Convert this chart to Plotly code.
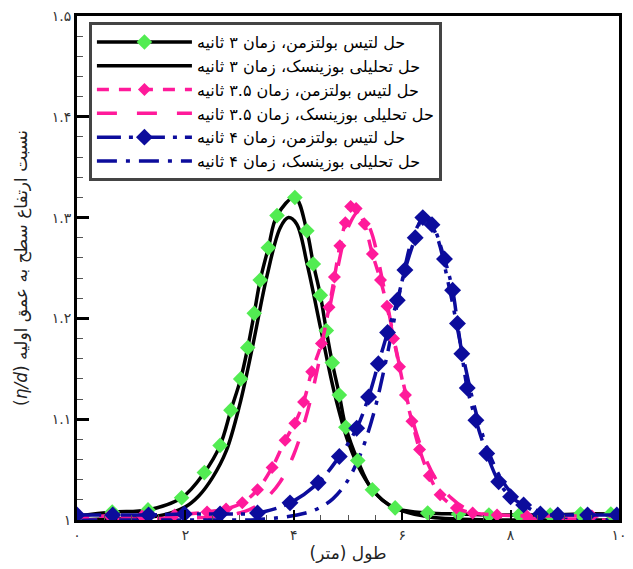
import plotly.graph_objects as go

# --- Lattice Boltzmann solution, t = 3 s (points carrying markers) ---
x_lb3 = [0.00, 0.65, 1.31, 1.93, 2.35, 2.64, 2.84, 3.02, 3.15, 3.27, 3.38, 3.53, 3.69, 4.02,
         4.24, 4.36, 4.49, 4.60, 4.71, 4.84, 4.96, 5.18, 5.45, 5.87, 6.47, 7.04, 7.60, 8.16,
         8.73, 9.29, 9.85]
y_lb3 = [1.004, 1.008, 1.010, 1.022, 1.047, 1.074, 1.109, 1.140, 1.171, 1.205, 1.238, 1.270,
         1.302, 1.320, 1.287, 1.254, 1.223, 1.188, 1.156, 1.124, 1.092, 1.059, 1.030, 1.012,
         1.007, 1.006, 1.005, 1.005, 1.005, 1.006, 1.006]

# --- Boussinesq analytical solution, t = 3 s ---
x_an3 = [0, 0.5, 1.0, 1.5, 2.0, 2.25, 2.5, 2.75, 3.0, 3.25, 3.5, 3.75, 3.9, 4.05, 4.25, 4.5,
         4.75, 5.0, 5.25, 5.5, 5.75, 6.0, 6.5, 7.0, 8.0, 9.0, 10.0]
y_an3 = [1.000, 1.001, 1.002, 1.004, 1.013, 1.024, 1.042, 1.068, 1.114, 1.175, 1.241, 1.290,
         1.300, 1.294, 1.253, 1.189, 1.126, 1.078, 1.047, 1.027, 1.015, 1.009, 1.003, 1.001,
         1.000, 1.000, 1.000]

# --- Lattice Boltzmann solution, t = 3.5 s ---
x_lb35 = [0.0, 0.6, 1.2, 1.8, 2.4, 2.75, 3.05, 3.33, 3.6, 3.84, 4.02, 4.18, 4.33, 4.51, 4.65,
          4.75, 4.85, 4.95, 5.05, 5.15, 5.3, 5.45, 5.6, 5.72, 5.84, 5.95, 6.06, 6.18, 6.32,
          6.5, 6.7, 7.0, 7.3, 7.75, 8.3, 8.9, 9.5, 10.0]
y_lb35 = [1.003, 1.004, 1.004, 1.005, 1.008, 1.011, 1.017, 1.030, 1.052, 1.079, 1.096, 1.117,
          1.147, 1.175, 1.211, 1.241, 1.272, 1.295, 1.311, 1.309, 1.294, 1.264, 1.238, 1.212,
          1.180, 1.152, 1.124, 1.098, 1.070, 1.044, 1.025, 1.012, 1.007, 1.005, 1.004, 1.004,
          1.004, 1.004]

# --- Boussinesq analytical solution, t = 3.5 s ---
x_an35 = [0, 1, 2, 2.5, 3.0, 3.25, 3.5, 3.75, 4.0, 4.25, 4.5, 4.75, 5.0, 5.2, 5.4, 5.65, 5.9,
          6.15, 6.4, 6.65, 6.9, 7.15, 7.4, 7.9, 8.5, 10]
y_an35 = [1.000, 1.001, 1.002, 1.003, 1.007, 1.012, 1.022, 1.038, 1.065, 1.107, 1.166, 1.234,
          1.290, 1.306, 1.290, 1.234, 1.166, 1.107, 1.065, 1.038, 1.022, 1.012, 1.007, 1.003,
          1.001, 1.000]

# --- Lattice Boltzmann solution, t = 4 s ---
x_lb4 = [0.0, 0.66, 1.32, 1.98, 2.64, 3.33, 3.93, 4.45, 4.84, 5.16, 5.38, 5.56, 5.73, 5.91,
         6.05, 6.24, 6.38, 6.55, 6.78, 6.93, 7.02, 7.10, 7.20, 7.36, 7.56, 7.78, 8.0, 8.24,
         8.55, 8.87, 9.42, 9.96]
y_lb4 = [1.005, 1.005, 1.005, 1.006, 1.006, 1.007, 1.017, 1.037, 1.063, 1.091, 1.122, 1.155,
         1.186, 1.218, 1.248, 1.280, 1.300, 1.293, 1.259, 1.228, 1.195, 1.165, 1.131, 1.099,
         1.066, 1.038, 1.023, 1.015, 1.006, 1.005, 1.005, 1.005]

# --- Boussinesq analytical solution, t = 4 s ---
x_an4 = [0, 2, 3.5, 4.22, 4.47, 4.72, 4.97, 5.22, 5.47, 5.72, 5.97, 6.22, 6.42, 6.62, 6.87,
         7.12, 7.37, 7.62, 7.87, 8.12, 8.37, 8.62, 9.12, 10]
y_an4 = [1.000, 1.000, 1.001, 1.007, 1.012, 1.021, 1.037, 1.064, 1.105, 1.163, 1.230, 1.284,
         1.300, 1.284, 1.230, 1.163, 1.105, 1.064, 1.037, 1.021, 1.012, 1.007, 1.002, 1.000]

# Axis tick values and their Persian labels
x_tickvals = [0, 2, 4, 6, 8, 10]
x_ticktext = ["۰", "۲", "۴", "۶", "۸", "۱۰"]
y_tickvals = [1.0, 1.1, 1.2, 1.3, 1.4, 1.5]
y_ticktext = ["۱", "۱.۱", "۱.۲", "۱.۳", "۱.۴", "۱.۵"]

names = [
    "حل لتیس بولتزمن، زمان ۳ ثانیه",
    "حل تحلیلی بوزینسک، زمان ۳ ثانیه",
    "حل لتیس بولتزمن، زمان ۳.۵ ثانیه",
    "حل تحلیلی بوزینسک، زمان ۳.۵ ثانیه",
    "حل لتیس بولتزمن، زمان ۴ ثانیه",
    "حل تحلیلی بوزینسک، زمان ۴ ثانیه",
]

RLM = "\u200f"  # keeps the closing parenthesis inside the right-to-left run

GREEN = "#52ec52"
PINK = "#ff1a9a"
NAVY = "#0c0c9c"
LW = 3.5

fig = go.Figure()

# analytical curves first so the LBM markers sit on top
fig.add_trace(go.Scatter(x=x_an3, y=y_an3, mode="lines", name=names[1], legendrank=2,
                         line=dict(color="black", width=LW, shape="spline")))
fig.add_trace(go.Scatter(x=x_an35, y=y_an35, mode="lines", name=names[3], legendrank=4,
                         line=dict(color=PINK, width=LW, dash="20px,20px", shape="spline")))
fig.add_trace(go.Scatter(x=x_an4, y=y_an4, mode="lines", name=names[5], legendrank=6,
                         line=dict(color=NAVY, width=LW, dash="20px,9px,4px,9px", shape="spline")))

fig.add_trace(go.Scatter(x=x_lb3, y=y_lb3, mode="lines+markers", name=names[0], legendrank=1,
                         line=dict(color="black", width=LW, shape="spline"),
                         marker=dict(symbol="diamond", size=12, color=GREEN)))
fig.add_trace(go.Scatter(x=x_lb35, y=y_lb35, mode="lines+markers", name=names[2], legendrank=3,
                         line=dict(color=PINK, width=LW, dash="12px,10px", shape="spline"),
                         marker=dict(symbol="diamond", size=10, color=PINK)))
fig.add_trace(go.Scatter(x=x_lb4, y=y_lb4, mode="lines+markers", name=names[4], legendrank=5,
                         line=dict(color=NAVY, width=LW, dash="24px,8px,4px,8px", shape="spline"),
                         marker=dict(symbol="diamond", size=13, color=NAVY)))

FONT = "DejaVu Sans"

fig.update_layout(
    width=633, height=569,
    margin=dict(l=77, r=6, t=16, b=49),
    paper_bgcolor="white", plot_bgcolor="white",
    font=dict(family=FONT, color="#222", size=13),
    showlegend=True,
    legend=dict(
        x=0.022, y=0.988, xanchor="left", yanchor="top",
        bgcolor="white", bordercolor="#444", borderwidth=3,
        font=dict(family=FONT, size=16, color="black"),
        itemwidth=95, tracegroupgap=0,
    ),
    xaxis=dict(
        range=[0, 10], tickvals=x_tickvals, ticktext=x_ticktext,
        ticks="inside", ticklen=10, tickwidth=2, tickcolor="black",
        minor=dict(dtick=0.5, ticks="inside", ticklen=5, tickwidth=1, tickcolor="#555"),
        showline=True, linecolor="black", linewidth=3, mirror=True,
        showgrid=False, zeroline=False,
        tickfont=dict(family=FONT, size=14, color="#333"),
        title=dict(text="طول (متر)" + RLM,
                   font=dict(family=FONT, size=17, color="#222"), standoff=6),
    ),
    yaxis=dict(
        range=[1, 1.5], tickvals=y_tickvals, ticktext=y_ticktext,
        ticks="inside", ticklen=12, tickwidth=2.5, tickcolor="black",
        minor=dict(dtick=0.02, ticks="inside", ticklen=6, tickwidth=1, tickcolor="#555"),
        showline=True, linecolor="black", linewidth=3, mirror=True,
        showgrid=False, zeroline=False,
        tickfont=dict(family=FONT, size=14, color="#333"),
        title=dict(text="(<i>η/d</i>) نسبت ارتفاع سطح به عمق اولیه",
                   font=dict(family=FONT, size=17, color="#222"), standoff=20),
    ),
)

fig.write_html("out.html")
